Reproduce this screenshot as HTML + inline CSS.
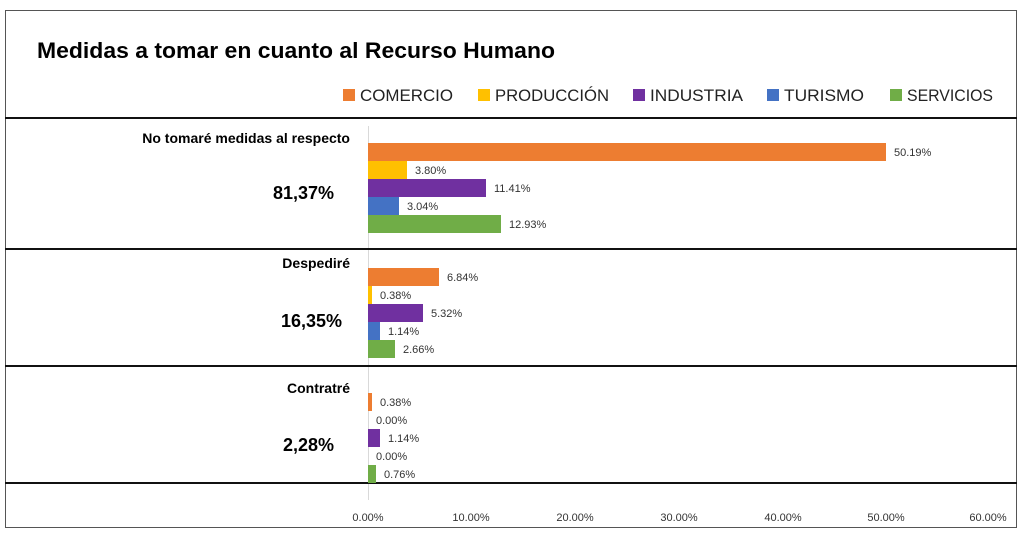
<!DOCTYPE html>
<html><head><meta charset="utf-8"><style>
body{margin:0;background:#fff;}
svg text{font-family:"Liberation Sans",sans-serif;}
</style></head><body>
<svg width="1024" height="537" xmlns="http://www.w3.org/2000/svg">
<rect x="5.5" y="10.5" width="1011" height="517" fill="#fff" stroke="#555" stroke-width="1"/>
<text x="37" y="58" font-size="22" font-weight="bold" fill="#000" textLength="518" lengthAdjust="spacingAndGlyphs">Medidas a tomar en cuanto al Recurso Humano</text>
<g font-size="17" fill="#222">
<rect x="343" y="89" width="12" height="12" fill="#ED7D31"/><text x="360" y="101" textLength="93" lengthAdjust="spacingAndGlyphs">COMERCIO</text>
<rect x="478" y="89" width="12" height="12" fill="#FFC000"/><text x="495" y="101" textLength="114" lengthAdjust="spacingAndGlyphs">PRODUCCIÓN</text>
<rect x="633" y="89" width="12" height="12" fill="#7030A0"/><text x="650" y="101" textLength="93" lengthAdjust="spacingAndGlyphs">INDUSTRIA</text>
<rect x="767" y="89" width="12" height="12" fill="#4472C4"/><text x="784" y="101" textLength="80" lengthAdjust="spacingAndGlyphs">TURISMO</text>
<rect x="890" y="89" width="12" height="12" fill="#70AD47"/><text x="907" y="101" textLength="86" lengthAdjust="spacingAndGlyphs">SERVICIOS</text>
</g>
<line x1="368.5" y1="126" x2="368.5" y2="500" stroke="#d9d9d9"/>
<g stroke="#111" stroke-width="2">
<line x1="5" y1="118" x2="1017" y2="118"/>
<line x1="5" y1="249" x2="1017" y2="249"/>
<line x1="5" y1="366" x2="1017" y2="366"/>
<line x1="5" y1="483" x2="1017" y2="483"/>
</g>
<g font-size="14" font-weight="bold" text-anchor="end" fill="#000">
<text x="350" y="143">No tomaré medidas al respecto</text>
<text x="350" y="268">Despediré</text>
<text x="350" y="393">Contratré</text>
</g>
<g font-size="18" font-weight="bold" text-anchor="end" fill="#000">
<text x="334" y="199">81,37%</text>
<text x="342" y="327">16,35%</text>
<text x="334" y="451">2,28%</text>
</g>
<g>
<rect x="368" y="143" width="518" height="18" fill="#ED7D31"/>
<rect x="368" y="161" width="39" height="18" fill="#FFC000"/>
<rect x="368" y="179" width="118" height="18" fill="#7030A0"/>
<rect x="368" y="197" width="31" height="18" fill="#4472C4"/>
<rect x="368" y="215" width="133" height="18" fill="#70AD47"/>
<rect x="368" y="268" width="71" height="18" fill="#ED7D31"/>
<rect x="368" y="286" width="4" height="18" fill="#FFC000"/>
<rect x="368" y="304" width="55" height="18" fill="#7030A0"/>
<rect x="368" y="322" width="12" height="18" fill="#4472C4"/>
<rect x="368" y="340" width="27" height="18" fill="#70AD47"/>
<rect x="368" y="393" width="4" height="18" fill="#ED7D31"/>
<rect x="368" y="429" width="12" height="18" fill="#7030A0"/>
<rect x="368" y="465" width="8" height="18" fill="#70AD47"/>
</g>
<g font-size="11" fill="#333">
<text x="894" y="156">50.19%</text>
<text x="415" y="174">3.80%</text>
<text x="494" y="192">11.41%</text>
<text x="407" y="210">3.04%</text>
<text x="509" y="228">12.93%</text>
<text x="447" y="281">6.84%</text>
<text x="380" y="299">0.38%</text>
<text x="431" y="317">5.32%</text>
<text x="388" y="335">1.14%</text>
<text x="403" y="353">2.66%</text>
<text x="380" y="406">0.38%</text>
<text x="376" y="424">0.00%</text>
<text x="388" y="442">1.14%</text>
<text x="376" y="460">0.00%</text>
<text x="384" y="478">0.76%</text>
</g>
<g font-size="11" fill="#333" text-anchor="middle">
<text x="368" y="521">0.00%</text>
<text x="471" y="521">10.00%</text>
<text x="575" y="521">20.00%</text>
<text x="679" y="521">30.00%</text>
<text x="783" y="521">40.00%</text>
<text x="886" y="521">50.00%</text>
<text x="988" y="521">60.00%</text>
</g>
</svg>
</body></html>
